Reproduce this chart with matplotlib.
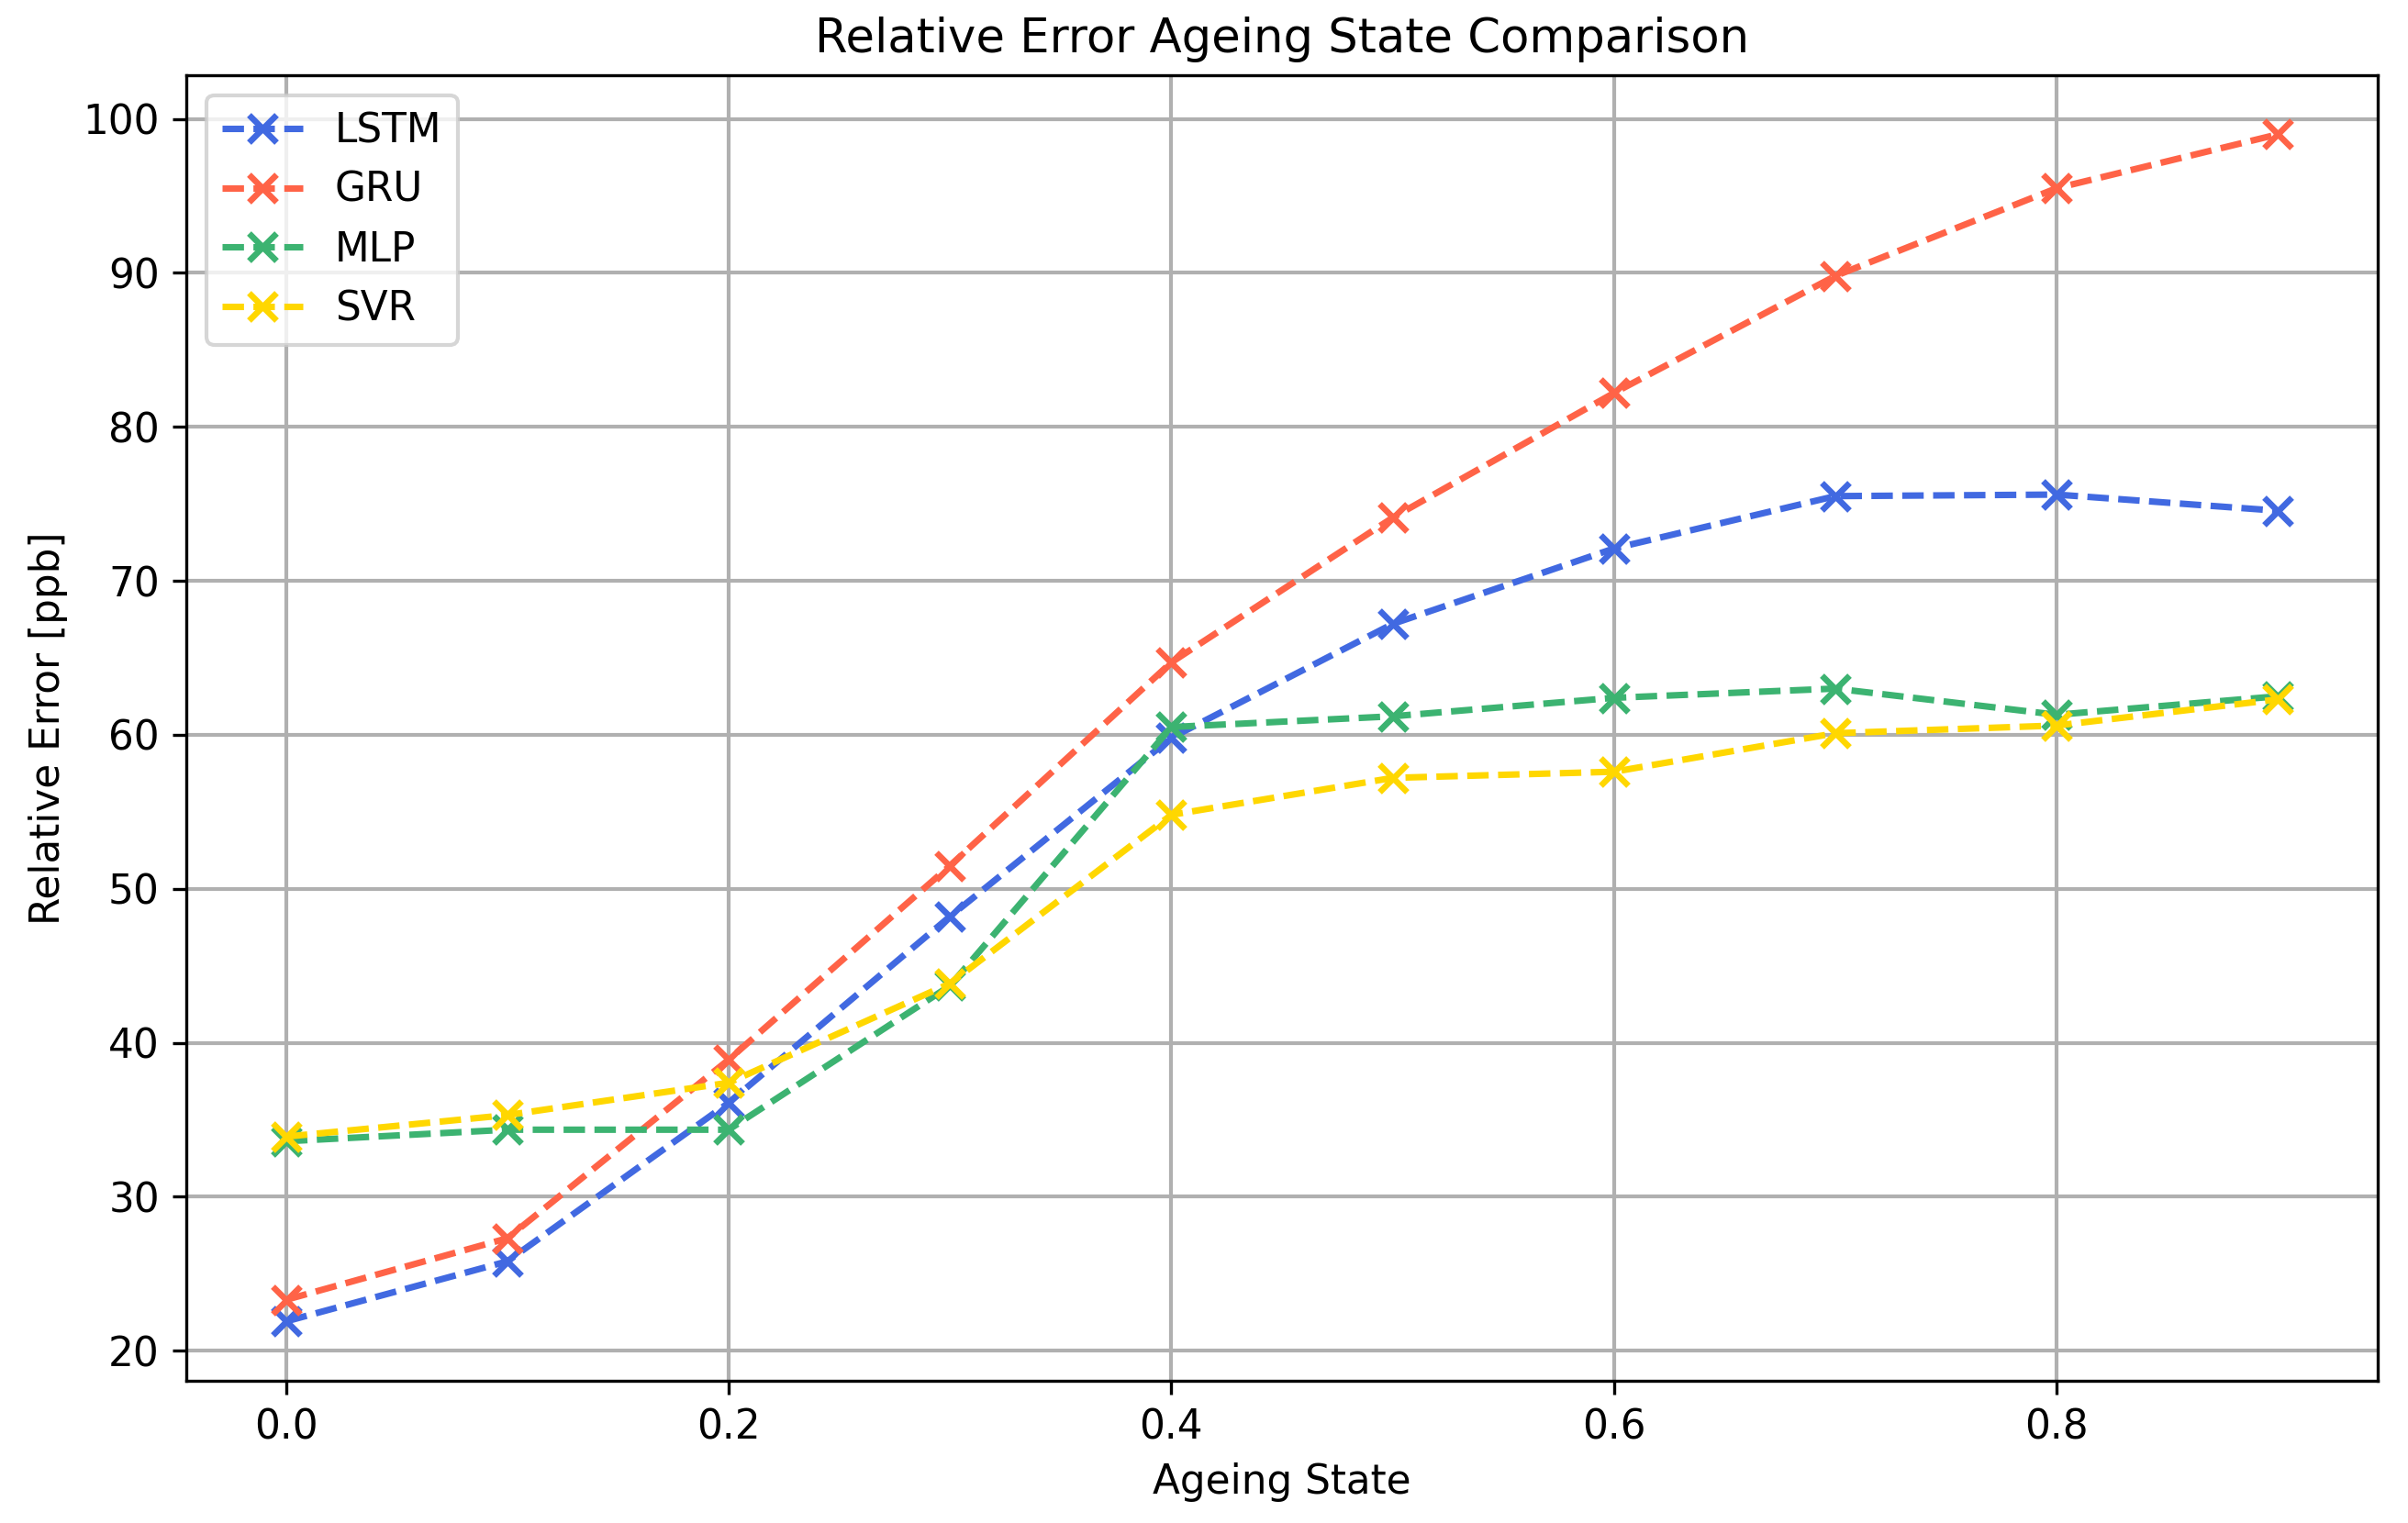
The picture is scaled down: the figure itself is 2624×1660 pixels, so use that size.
import matplotlib
matplotlib.use("Agg")
import matplotlib.pyplot as plt

ageing_state = [0.0, 0.1, 0.2, 0.3, 0.4, 0.5, 0.6, 0.7, 0.8, 0.9]
lstm = [21.9, 25.8, 36.1, 48.2, 59.8, 67.2, 72.1, 75.5, 75.6, 74.55]
gru = [23.3, 27.3, 38.9, 51.5, 64.7, 74.1, 82.2, 89.8, 95.5, 99.0]
mlp = [33.6, 34.35, 34.35, 43.7, 60.5, 61.2, 62.4, 63.0, 61.3, 62.5]
svr = [33.9, 35.3, 37.4, 43.85, 54.8, 57.2, 57.6, 60.1, 60.6, 62.3]

series_names = ["LSTM", "GRU", "MLP", "SVR"]
series_values = [lstm, gru, mlp, svr]
series_colors = ["#4169E1", "#FF6347", "#3CB371", "#FFD700"]

plt.rcParams["font.size"] = 10.5

fig = plt.figure(figsize=(2624 / 300, 1660 / 300), dpi=300)
ax = fig.add_subplot(111)
fig.subplots_adjust(left=0.0774, right=0.9874, bottom=0.0934, top=0.9508)

for name, vals, col in zip(series_names, series_values, series_colors):
    ax.plot(ageing_state, vals, linestyle="--", marker="x", color=col,
            linewidth=1.7, markersize=7, markeredgewidth=1.6, label=name,
            dashes=(3.3, 1.45))

ax.set_title("Relative Error Ageing State Comparison", fontsize=12.3)
ax.set_xlabel("Ageing State")
ax.set_ylabel("Relative Error [ppb]")
ax.grid(True, color="#b0b0b0", linewidth=1.0)
ax.legend(loc="upper left")

fig.savefig("out.png", dpi=300)
